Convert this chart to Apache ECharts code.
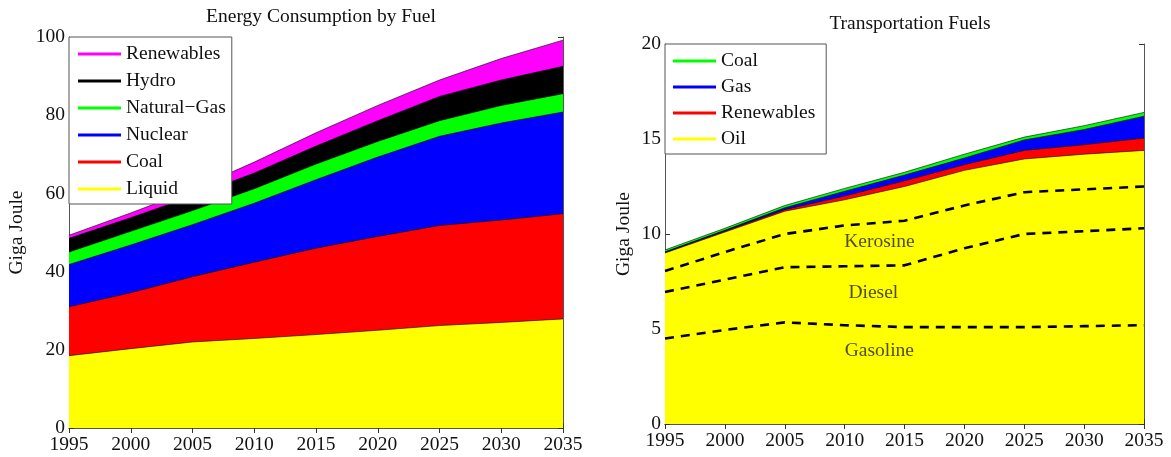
<!DOCTYPE html>
<html>
<head>
<meta charset="utf-8">
<script src="https://cdn.jsdelivr.net/npm/echarts@6/dist/echarts.min.js"></script>
<style>
  html, body { margin: 0; padding: 0; background: #fff; }
  #chart { width: 1171px; height: 457px; }
</style>
</head>
<body>
<div id="chart"></div>
<script>
const years = [1995, 2000, 2005, 2010, 2015, 2020, 2025, 2030, 2035];

// Energy consumption by fuel (Giga Joule), stacked from the bottom up
const liquid     = [18.5, 20.3, 22.0, 22.9, 23.9, 25.0, 26.2, 27.0, 27.9];
const coal       = [12.5, 14.3, 16.7, 19.5, 22.1, 24.0, 25.6, 26.2, 26.9];
const nuclear    = [10.8, 12.2, 13.3, 15.1, 17.5, 20.3, 22.8, 24.8, 26.0];
const naturalGas = [3.2, 3.5, 3.6, 3.7, 4.0, 4.0, 4.0, 4.5, 4.7];
const hydro      = [3.5, 3.5, 3.7, 4.0, 4.6, 5.3, 6.2, 6.5, 7.0];
const renewables = [0.8, 1.2, 1.7, 2.8, 3.4, 3.9, 4.2, 5.5, 6.7];

// Transportation fuels (Giga Joule), stacked from the bottom up
const oil        = [9.0, 10.1, 11.2, 11.8, 12.5, 13.35, 13.95, 14.2, 14.4];
const trRenew    = [0.03, 0.05, 0.08, 0.2, 0.3, 0.3, 0.45, 0.5, 0.65];
const trGas      = [0.03, 0.05, 0.1, 0.25, 0.3, 0.35, 0.55, 0.8, 1.15];
const trCoal     = [0.1, 0.1, 0.12, 0.15, 0.15, 0.2, 0.15, 0.2, 0.2];

// Split of oil by product: upper edge of each product band
const gasolineTop = [4.5, 4.95, 5.35, 5.2, 5.1, 5.1, 5.1, 5.15, 5.2];
const dieselTop   = [6.95, 7.6, 8.25, 8.3, 8.35, 9.25, 10.0, 10.15, 10.3];
const kerosineTop = [8.05, 9.05, 10.0, 10.45, 10.7, 11.5, 12.2, 12.35, 12.5];
const productLabels = ['Kerosine', 'Diesel', 'Gasoline'];

const energyNames = ['Liquid', 'Coal', 'Nuclear', 'Natural\u2212Gas', 'Hydro', 'Renewables'];
const transportNames = ['Oil', 'Renewables', 'Gas', 'Coal'];

const SERIF = 'Liberation Serif, Times New Roman, serif';
const FONT_SIZE = 19.5;
const pairs = vals => years.map((y, i) => [y, vals[i]]);
const tr = n => n + ' (transport)';

const energyColors = ['#ffff00', '#ff0000', '#0000ff', '#00ff00', '#000000', '#ff00ff'];
const transportColors = ['#ffff00', '#ff0000', '#0000ff', '#00ff00'];

// Running totals: each layer is filled from the axis up to its upper edge,
// and layers are drawn top-down so lower layers paint over higher ones.
function cumulative(layers) {
  const out = [];
  layers.forEach((vals, k) => {
    out.push(vals.map((v, i) => (k ? out[k - 1][i] : 0) + v));
  });
  return out;
}

function filledLayer(name, vals, color, axis) {
  return {
    name, type: 'line',
    xAxisIndex: axis, yAxisIndex: axis,
    data: pairs(vals),
    showSymbol: false, symbol: 'none',
    lineStyle: { color: '#000', width: 0.6 },
    itemStyle: { color },
    areaStyle: { color, opacity: 1, origin: 'start' },
    emphasis: { disabled: true },
    silent: true, z: 2
  };
}

function dashedLine(vals) {
  return {
    type: 'line', xAxisIndex: 2, yAxisIndex: 2,
    data: pairs(vals), showSymbol: false, symbol: 'none',
    lineStyle: { color: '#000', width: 2.6, type: [9, 7] },
    silent: true, z: 4
  };
}

const textStyle = { fontFamily: SERIF, fontSize: FONT_SIZE, color: '#111' };

function xAxes(grid) {
  const base = {
    gridIndex: grid, type: 'value', min: 1995, max: 2035, interval: 5,
    axisLine: { show: true, lineStyle: { color: '#555', width: 1 } },
    axisTick: { show: true, inside: true, length: 5, lineStyle: { color: '#333' } },
    splitLine: { show: false }
  };
  return [
    Object.assign({}, base, {
      position: 'bottom',
      axisLabel: Object.assign({ margin: 7, formatter: v => String(v) }, textStyle)
    }),
    Object.assign({}, base, { position: 'top', axisLabel: { show: false } })
  ];
}

function yAxes(grid, max, interval, gap) {
  const base = {
    gridIndex: grid, type: 'value', min: 0, max, interval,
    axisLine: { show: true, lineStyle: { color: '#555', width: 1 } },
    axisTick: { show: true, inside: true, length: 5, lineStyle: { color: '#333' } },
    splitLine: { show: false }
  };
  return [
    Object.assign({}, base, {
      position: 'left',
      axisLabel: Object.assign({ margin: 4 }, textStyle),
      name: 'Giga Joule', nameLocation: 'middle', nameGap: gap,
      nameTextStyle: textStyle
    }),
    Object.assign({}, base, { position: 'right', axisLabel: { show: false } })
  ];
}

const legendBase = {
  orient: 'vertical', icon: 'rect', itemWidth: 43, itemHeight: 3,
  backgroundColor: '#fff', borderColor: '#555', borderWidth: 1, borderRadius: 0,
  selectedMode: false, z: 10,
  textStyle: Object.assign({ lineHeight: 20 }, textStyle)
};

const energyLegendData = energyNames.map((n, i) => ({
  name: n, itemStyle: { color: energyColors[i], borderWidth: 0 }
})).reverse();
const transportLegendData = transportNames.map((n, i) => ({
  name: tr(n), itemStyle: { color: transportColors[i], borderWidth: 0 }
})).reverse();

const energyTops = cumulative([liquid, coal, nuclear, naturalGas, hydro, renewables]);
const transportTops = cumulative([oil, trRenew, trGas, trCoal]);

const series = [];
for (let i = energyNames.length - 1; i >= 0; i--) {
  series.push(filledLayer(energyNames[i], energyTops[i], energyColors[i], 0));
}
for (let i = transportNames.length - 1; i >= 0; i--) {
  series.push(filledLayer(tr(transportNames[i]), transportTops[i], transportColors[i], 2));
}
[gasolineTop, dieselTop, kerosineTop].forEach(v => series.push(dashedLine(v)));
series.push({
  type: 'scatter', xAxisIndex: 2, yAxisIndex: 2, silent: true, z: 5,
  symbolSize: 1, itemStyle: { color: 'transparent' },
  data: [[2012.9, 9.6], [2012.4, 6.9], [2012.9, 3.85]],
  label: Object.assign({
    show: true, position: 'inside',
    formatter: p => productLabels[p.dataIndex]
  }, textStyle, { color: '#222' })
});

const chart = echarts.init(document.getElementById('chart'), null, { renderer: 'canvas' });
chart.setOption({
  backgroundColor: '#fff',
  animation: false,
  title: [
    { text: 'Energy Consumption by Fuel', left: 316, top: 2, textAlign: 'center',
      textStyle: Object.assign({ fontWeight: 'normal' }, textStyle) },
    { text: 'Transportation Fuels', left: 905, top: 9, textAlign: 'center',
      textStyle: Object.assign({ fontWeight: 'normal' }, textStyle) }
  ],
  grid: [
    { left: 69, right: 608, top: 37, height: 391, show: false },
    { left: 665, right: 27, top: 44, height: 380, show: false }
  ],
  xAxis: [...xAxes(0), ...xAxes(1)],
  yAxis: [...yAxes(0, 100, 20, 42), ...yAxes(1, 20, 5, 31)],
  legend: [
    Object.assign({}, legendBase, { left: 69, top: 37, itemGap: 7, padding: [7, 6, 5, 9], data: energyLegendData }),
    Object.assign({}, legendBase, { left: 665, top: 44, itemGap: 6, padding: [7, 11, 5, 8], data: transportLegendData,
      formatter: n => n.replace(' (transport)', '') })
  ],
  series
});
</script>
</body>
</html>
